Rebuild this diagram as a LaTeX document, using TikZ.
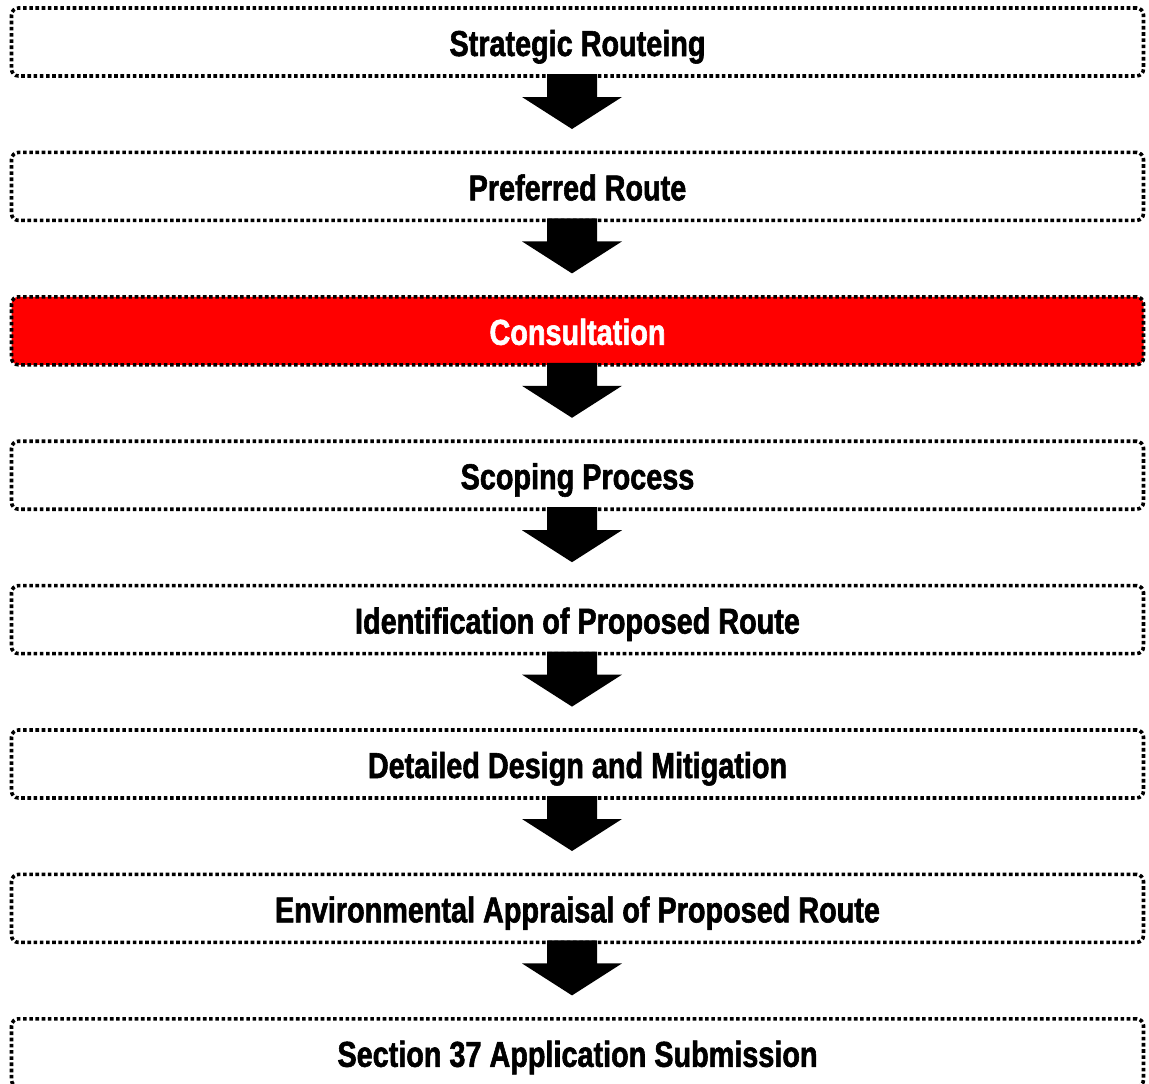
\documentclass[tikz,border=0pt]{standalone}
\usepackage{fontspec}
\setmainfont{Liberation Sans}[FakeStretch=0.80,FakeBold=1.6]
\usetikzlibrary{calc}
\newcommand\flowarrow[1]{%
  \fill[black] ([shift={(-30.5,-2)}]#1.south) -- ([shift={(-30.5,21)}]#1.south)
    -- ([shift={(-55.5,21)}]#1.south) -- ([shift={(-5.5,53)}]#1.south)
    -- ([shift={(44.5,21)}]#1.south) -- ([shift={(19.5,21)}]#1.south)
    -- ([shift={(19.5,-2)}]#1.south) -- cycle;}
\begin{document}
\begin{tikzpicture}[x=1pt,y=-1pt,
  stagebox/.style={draw=black, line width=3.6pt, dash pattern=on 3.6pt off 2.6pt,
    rounded corners=7pt, minimum width=1132pt, minimum height=68pt, outer sep=0pt,
    inner sep=0pt, text height=28pt, text depth=0pt,
    font=\fontsize{36}{40}\selectfont\bfseries},
  hot/.style={fill=red, text=white}]
\useasboundingbox (0,0) rectangle (1149,1084);
\clip (0,0) rectangle (1149,1084);
\node[stagebox] (b1) at (577.5,42) {Strategic Routeing};
\node[stagebox] (b2) at (577.5,186.4) {Preferred Route};
\node[stagebox,hot] (b3) at (577.5,330.8) {Consultation};
\node[stagebox] (b4) at (577.5,475.2) {Scoping Process};
\node[stagebox] (b5) at (577.5,619.6) {Identification of Proposed Route};
\node[stagebox] (b6) at (577.5,764) {Detailed Design and Mitigation};
\node[stagebox] (b7) at (577.5,908.4) {Environmental Appraisal of Proposed Route};
\node[stagebox] (b8) at (577.5,1052.8) {Section 37 Application Submission};
\flowarrow{b1}
\flowarrow{b2}
\flowarrow{b3}
\flowarrow{b4}
\flowarrow{b5}
\flowarrow{b6}
\flowarrow{b7}
\end{tikzpicture}
\end{document}
